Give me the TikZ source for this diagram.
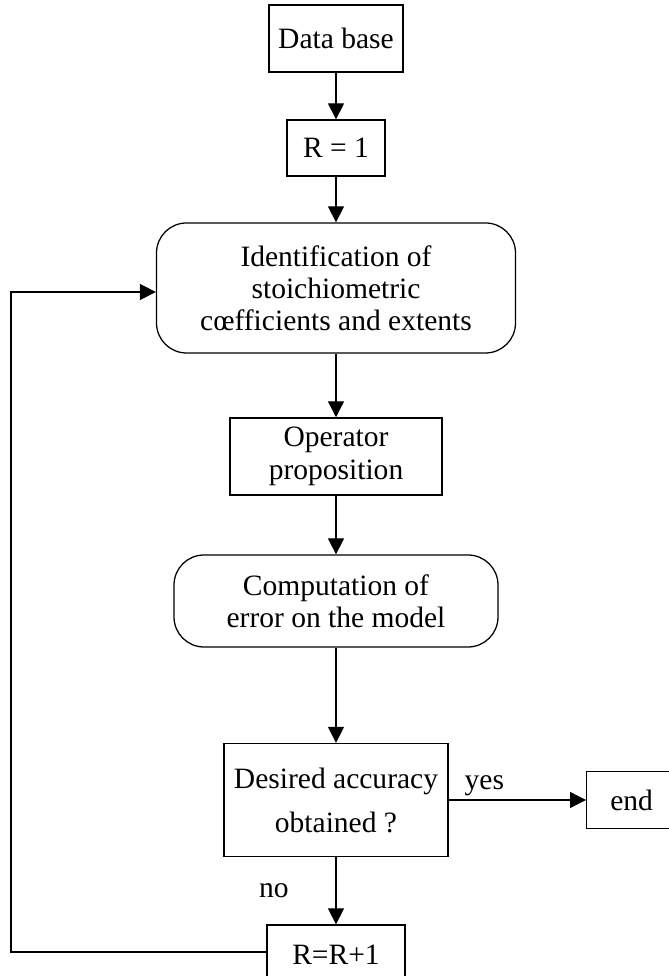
\documentclass[tikz,border=0pt]{standalone}
\usepackage{fontspec}
\setmainfont{Liberation Serif}
\usepackage{tikz}
\usetikzlibrary{arrows.meta,positioning,calc}

\begin{document}
\begin{tikzpicture}[
    font=\fontsize{21}{22.8}\selectfont,
    line width=0.9pt,
    stepbox/.style={rectangle, draw=black, align=center, inner sep=2pt},
    roundbox/.style={rectangle, rounded corners=0.75cm, draw=black, align=center, inner sep=2pt},
    flow/.style={-{Triangle[length=0.4cm,width=0.4cm]}}
]
    \useasboundingbox (0,0) rectangle (16.7,24.4);

    % Main column
    \node[stepbox, minimum width=3.35cm, minimum height=1.675cm] (db) at (8.4, 23.44) {Data base};
    \node[stepbox, minimum width=2.45cm, minimum height=1.4cm] (r1) at (8.4, 20.7) {R = 1};
    \node[roundbox, minimum width=8.975cm, minimum height=3.25cm] (ident) at (8.4, 17.2) {Identification of\\stoichiometric\\cœfficients and extents};
    \node[stepbox, minimum width=5.3cm, minimum height=1.925cm] (op) at (8.4, 12.99) {Operator\\proposition};
    \node[roundbox, minimum width=8.1cm, minimum height=2.3cm] (comp) at (8.4, 9.375) {Computation of\\error on the model};
    \node[stepbox, minimum width=5.6cm, minimum height=2.825cm] (acc) at (8.4, 4.4) {Desired accuracy\\[0.3cm]obtained ?};
    \node[stepbox, minimum width=3.45cm, minimum height=1.5cm] (r2) at (8.4, 0.525) {R=R+1};

    % Exit
    \node[stepbox, minimum width=2.25cm, minimum height=1.425cm, anchor=west] (end) at (14.65, 4.4) {end};

    % Arrows down the column
    \draw[flow] (db) -- (r1);
    \draw[flow] (r1) -- (ident);
    \draw[flow] (ident) -- (op);
    \draw[flow] (op) -- (comp);
    \draw[flow] (comp) -- (acc);
    \draw[flow] (acc) -- node[midway, left=1.05cm] (nolab) {no} (r2);
    \draw[flow] (acc) -- node[pos=0.26, above=-1pt] (yeslab) {yes} (end);

    % Loop back
    \coordinate (loopout) at (0.275, 0.6);
    \coordinate (loopin) at (0.275, 17.1);
    \draw[flow] (r2.west |- loopout) -- (loopout) -- (loopin) -- (ident.west |- loopin);

\end{tikzpicture}
\end{document}
